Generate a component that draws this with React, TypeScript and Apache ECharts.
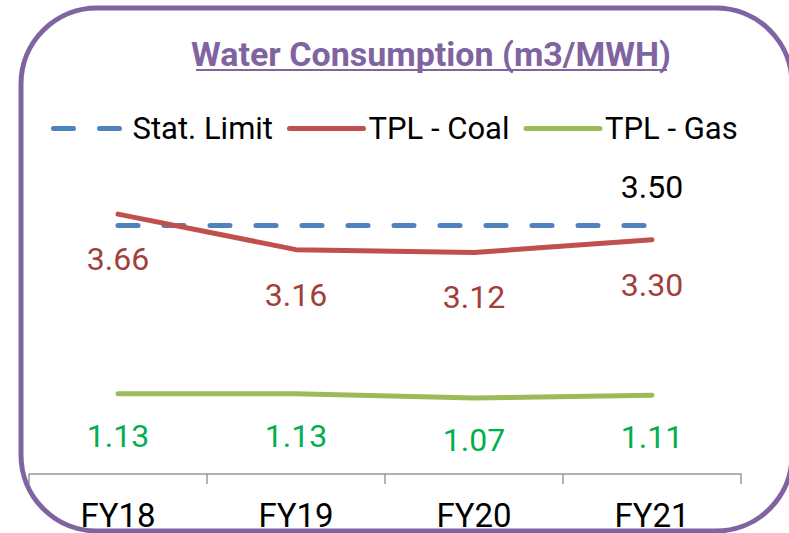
import React, { useEffect, useRef } from "react";
import * as echarts from "echarts";

const categories = ["FY18", "FY19", "FY20", "FY21"];
const statLimit = [3.5, 3.5, 3.5, 3.5];
const tplCoal = [3.66, 3.16, 3.12, 3.3];
const tplGas = [1.13, 1.13, 1.07, 1.11];
const titleText = "Water Consumption (m3/MWH)";

const FONT = "Roboto, 'Noto Sans', sans-serif";
const fmt = (p: any) => Number(p.value).toFixed(2);
const HIDDEN = "rgba(0,0,0,0)";

export default function App() {
  const ref = useRef<HTMLDivElement>(null);
  useEffect(() => {
    if (!ref.current) return;
    const chart = echarts.init(ref.current, null, { renderer: "svg" });
    chart.setOption({
      animation: false,
      backgroundColor: "#ffffff",
      textStyle: { fontFamily: FONT },
      grid: { left: 29, right: 48, top: 190, bottom: 59, containLabel: false },
      legend: {
        top: 108,
        left: 46,
        itemWidth: 74,
        itemHeight: 14,
        itemGap: 14,
        itemStyle: { opacity: 0 },
        lineStyle: { width: 5 },
        textStyle: { fontSize: 31, color: "#000", fontFamily: FONT },
        data: ["Stat. Limit", "TPL - Coal", "TPL - Gas"],
      },
      xAxis: {
        type: "category",
        data: categories,
        boundaryGap: true,
        axisLine: { lineStyle: { color: "#999999", width: 1.5 } },
        axisTick: { show: true, length: 10, lineStyle: { color: "#999999", width: 1.5 } },
        axisLabel: { fontSize: 33, color: "#000", margin: 25, fontFamily: FONT },
      },
      yAxis: {
        type: "value",
        min: 0,
        max: 4,
        show: false,
        splitLine: { show: false },
      },
      series: [
        {
          name: "Stat. Limit",
          type: "line",
          data: statLimit.map((v, i) => ({
            value: v,
            label: { show: i === statLimit.length - 1 },
          })),
          symbol: "circle",
          symbolSize: 2,
          lineStyle: { color: "#4F81BD", width: 5, type: [20, 26], cap: "round" },
          itemStyle: { color: HIDDEN },
          label: {
            position: "top",
            distance: 22,
            fontSize: 32,
            color: "#000",
            fontFamily: FONT,
            formatter: fmt,
          },
        },
        {
          name: "TPL - Coal",
          type: "line",
          data: tplCoal,
          symbol: "circle",
          symbolSize: 2,
          lineStyle: { color: "#C0504D", width: 5, cap: "round" },
          itemStyle: { color: HIDDEN },
          label: {
            show: true,
            position: "bottom",
            distance: 28,
            fontSize: 32,
            color: "#A0403D",
            fontFamily: FONT,
            formatter: fmt,
          },
        },
        {
          name: "TPL - Gas",
          type: "line",
          data: tplGas,
          symbol: "circle",
          symbolSize: 2,
          lineStyle: { color: "#9BBB59", width: 5, cap: "round" },
          itemStyle: { color: HIDDEN },
          label: {
            show: true,
            position: "bottom",
            distance: 25,
            fontSize: 32,
            color: "#00B050",
            fontFamily: FONT,
            formatter: fmt,
          },
        },
      ],
      graphic: [
        {
          type: "text",
          x: 431,
          y: 54,
          z: 10,
          style: {
            text: titleText,
            fill: "#8064A2",
            fontSize: 34,
            fontWeight: "bold",
            fontFamily: FONT,
            align: "center",
            verticalAlign: "middle",
          },
        },
        {
          type: "line",
          z: 10,
          shape: { x1: 196, y1: 70, x2: 667, y2: 70 },
          style: { stroke: "#8064A2", lineWidth: 2 },
        },
        {
          type: "rect",
          z: 100,
          shape: { x: 21, y: 8, width: 771, height: 523, r: 76 },
          style: { fill: "none", stroke: "#8064A2", lineWidth: 5 },
        },
      ],
    });
    return () => chart.dispose();
  }, []);
  return (
    <div
      ref={ref}
      style={{ position: "absolute", left: 0, top: 0, width: 789, height: 533 }}
    />
  );
}
